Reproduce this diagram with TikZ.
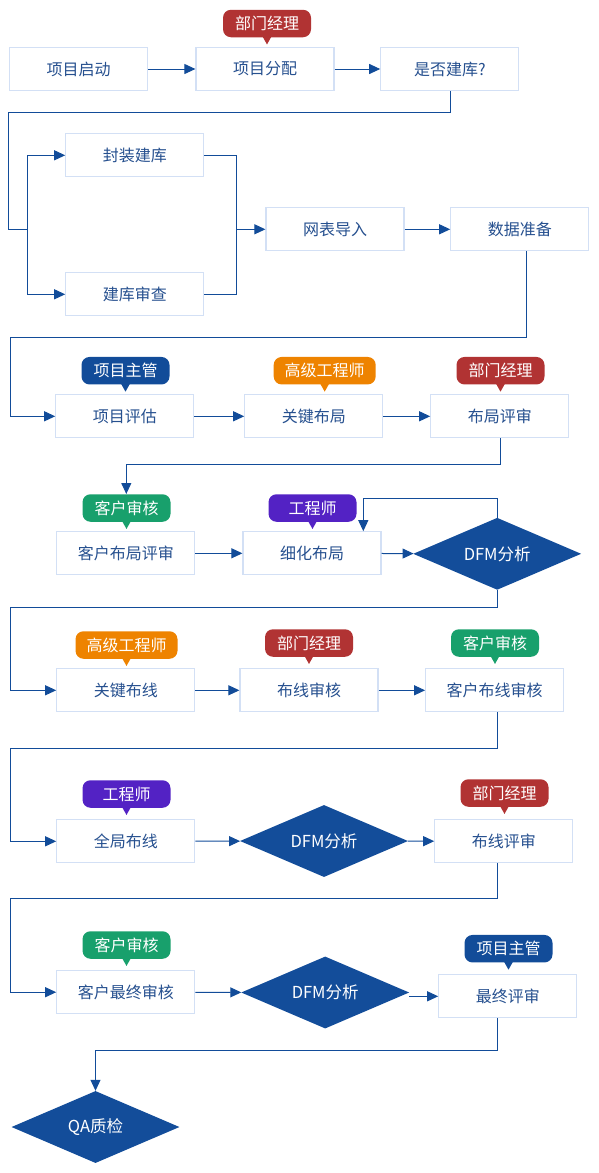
\documentclass[tikz,border=0pt]{standalone}
\usepackage{fontspec}
\setmainfont{Noto Sans CJK SC}
\usetikzlibrary{shapes.geometric,arrows.meta}
\definecolor{boxline}{HTML}{D3E0F5}
\definecolor{boxtext}{HTML}{26508F}
\definecolor{linec}{HTML}{124C99}
\definecolor{diafill}{HTML}{134D9A}
\definecolor{tagred}{HTML}{B13333}
\definecolor{tagorange}{HTML}{EE8300}
\definecolor{tagblue}{HTML}{124C99}
\definecolor{taggreen}{HTML}{18A06C}
\definecolor{tagpurple}{HTML}{5322C4}
\newcommand\mytag[4]{%
  \node[tagbox,fill=#2] (#1) at (#3) {#4};
  \fill[#2] (#1.south) ++(-4.5,-1) -- ++(9,0) -- ++(-4.5,8) -- cycle;}
\begin{document}
\begin{tikzpicture}[x=1pt,y=-1pt,
  box/.style={draw=boxline, line width=1.2pt, fill=white, minimum width=138pt, minimum height=43pt, inner sep=0pt, text=boxtext, font=\fontsize{16}{19}\selectfont},
  dia/.style={diamond, aspect=2.33, fill=diafill, minimum width=168pt, minimum height=72pt, inner sep=0pt, text=white, font=\fontsize{16.5}{19}\selectfont},
  tagbox/.style={rounded corners=8pt, minimum width=88pt, minimum height=27.5pt, inner xsep=11pt, inner ysep=0pt, text=white, font=\fontsize{16}{19}\selectfont},
  ln/.style={draw=linec, line width=1pt},
  arr/.style={draw=linec, line width=1pt, -{Triangle[length=11pt,width=10pt]}},
]
\useasboundingbox (0,0) rectangle (598,1173);

% boxes
\node[box] (b1) at (78.7,69) {项目启动};
\node[box] (b2) at (265,69) {项目分配};
\node[box] (b3) at (449.8,69) {是否建库?};
\node[box] (b4) at (134.8,155.3) {封装建库};
\node[box] (b5) at (134.8,294.3) {建库审查};
\node[box] (b6) at (335,229.3) {网表导入};
\node[box] (b7) at (519.8,229.3) {数据准备};
\node[box] (b8) at (124.8,416.3) {项目评估};
\node[box] (b9) at (313.8,416.3) {关键布局};
\node[box] (b10) at (499.8,416.3) {布局评审};
\node[box] (b11) at (125.8,553.3) {客户布局评审};
\node[box] (b12) at (312,553.3) {细化布局};
\node[dia] (d1) at (497.2,553.8) {DFM分析};
\node[box] (b13) at (125.8,690.3) {关键布线};
\node[box] (b14) at (309,690.3) {布线审核};
\node[box] (b15) at (494.7,690.3) {客户布线审核};
\node[box] (b16) at (125.8,841.3) {全局布线};
\node[dia] (d2) at (324,841) {DFM分析};
\node[box] (b17) at (503.8,841.3) {布线评审};
\node[box] (b18) at (125.8,992.2) {客户最终审核};
\node[dia] (d3) at (325.2,992.5) {DFM分析};
\node[box] (b19) at (507.8,996.3) {最终评审};
\node[dia] (d4) at (95.5,1127) {QA质检};

% tags
\mytag{t1}{tagred}{267,23.5}{部门经理}
\mytag{t2}{tagblue}{125.5,370.7}{项目主管}
\mytag{t3}{tagorange}{324.7,370.7}{高级工程师}
\mytag{t4}{tagred}{500.5,370.7}{部门经理}
\mytag{t5}{taggreen}{126.5,508}{客户审核}
\mytag{t6}{tagpurple}{312.5,508}{工程师}
\mytag{t7}{tagorange}{126.5,645}{高级工程师}
\mytag{t8}{tagred}{309,643}{部门经理}
\mytag{t9}{taggreen}{495,643}{客户审核}
\mytag{t10}{tagpurple}{126.5,794}{工程师}
\mytag{t11}{tagred}{504.5,793}{部门经理}
\mytag{t12}{taggreen}{126.5,945}{客户审核}
\mytag{t13}{tagblue}{508.5,948.7}{项目主管}

% corner coordinates
\coordinate (j1) at (27.3,229.3);
\coordinate (j2) at (236.3,229.3);

% connectors
\draw[arr] (b1) -- (b2);
\draw[arr] (b2) -- (b3);
\draw[ln] (450.7,91) coordinate (s3) -- (450.7,112.3) -- (8.3,112.3) -- (8.3,229.3) -- (j1);
\draw[arr] (j1) |- (b4.west);
\draw[arr] (j1) |- (b5.west);
\draw[ln] (b4.east) -| (j2);
\draw[ln] (b5.east) -| (j2);
\draw[arr] (j2) -- (b6.west);
\draw[arr] (b6) -- (b7);
\draw[arr] (b7.south -| 526.7,0) -- (526.7,337) -- (10.3,337) |- (b8.west);
\draw[arr] (b8) -- (b9);
\draw[arr] (b9) -- (b10);
\draw[arr] (b10.south -| 500.8,0) -- (500.8,464.3) -- (126.3,464.3) -- (126.3,494) coordinate (e5);
\draw[arr] (b11) -- (b12);
\draw[arr] (b12) -- (d1);
\draw[arr] (d1.north) -- (497.2,498.3) -- (363.3,498.3) -- (b12.north -| 363.3,0);
\draw[arr] (d1.south) -- (497.2,607) -- (10.3,607) |- (b13.west);
\draw[arr] (b13) -- (b14);
\draw[arr] (b14) -- (b15);
\draw[arr] (b15.south -| 497.7,0) -- (497.7,748.3) -- (10.3,748.3) |- (b16.west);
\draw[arr] (b16) -- (d2);
\draw[arr] (d2) -- (b17);
\draw[arr] (b17.south -| 497.7,0) -- (497.7,898.3) -- (10.3,898.3) |- (b18.west);
\draw[arr] (b18) -- (d3);
\draw[arr] (d3.east |- b19.west) -- (b19.west);
\draw[arr] (b19.south -| 497.7,0) -- (497.7,1050.3) -- (95.5,1050.3) -- (d4.north);
\end{tikzpicture}
\end{document}
